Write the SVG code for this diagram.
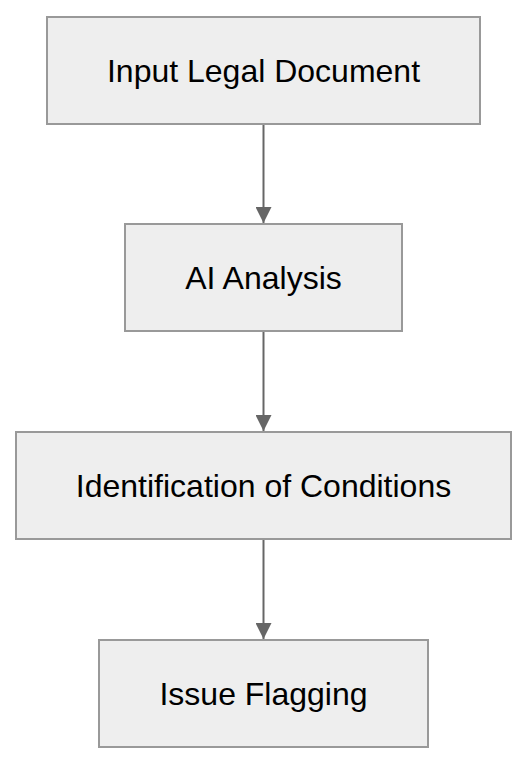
<svg xmlns="http://www.w3.org/2000/svg" width="528" height="764" viewBox="0 0 528 764">
<style>
.box{fill:#eeeeee;stroke:#999999;stroke-width:2}
.lbl{font-family:"Liberation Sans",Arial,sans-serif;font-size:32px;fill:#000;text-anchor:middle}
.edge{stroke:#666666;stroke-width:2;fill:none}
</style>
<defs>
<marker id="arr" viewBox="0 0 16 16" refX="16" refY="8" markerWidth="16" markerHeight="16" markerUnits="userSpaceOnUse" orient="auto">
<path d="M0,0 L16,8 L0,16 Z" fill="#666666"/>
</marker>
</defs>
<g id="connectors">
<line class="edge" x1="263.5" y1="124" x2="263.5" y2="223" marker-end="url(#arr)"/>
<line class="edge" x1="263.5" y1="332" x2="263.5" y2="431" marker-end="url(#arr)"/>
<line class="edge" x1="263.5" y1="540" x2="263.5" y2="639" marker-end="url(#arr)"/>
</g>
<g id="n1">
<rect class="box" x="47" y="17" width="433" height="107"/>
<text class="lbl" x="263.5" y="81.5">Input Legal Document</text>
</g>
<g id="n2">
<rect class="box" x="125" y="224" width="277" height="107"/>
<text class="lbl" x="263.5" y="289">AI Analysis</text>
</g>
<g id="n3">
<rect class="box" x="16" y="432" width="495" height="107"/>
<text class="lbl" x="263.5" y="497">Identification of Conditions</text>
</g>
<g id="n4">
<rect class="box" x="99" y="640" width="329" height="107"/>
<text class="lbl" x="263.5" y="705">Issue Flagging</text>
</g>
</svg>
